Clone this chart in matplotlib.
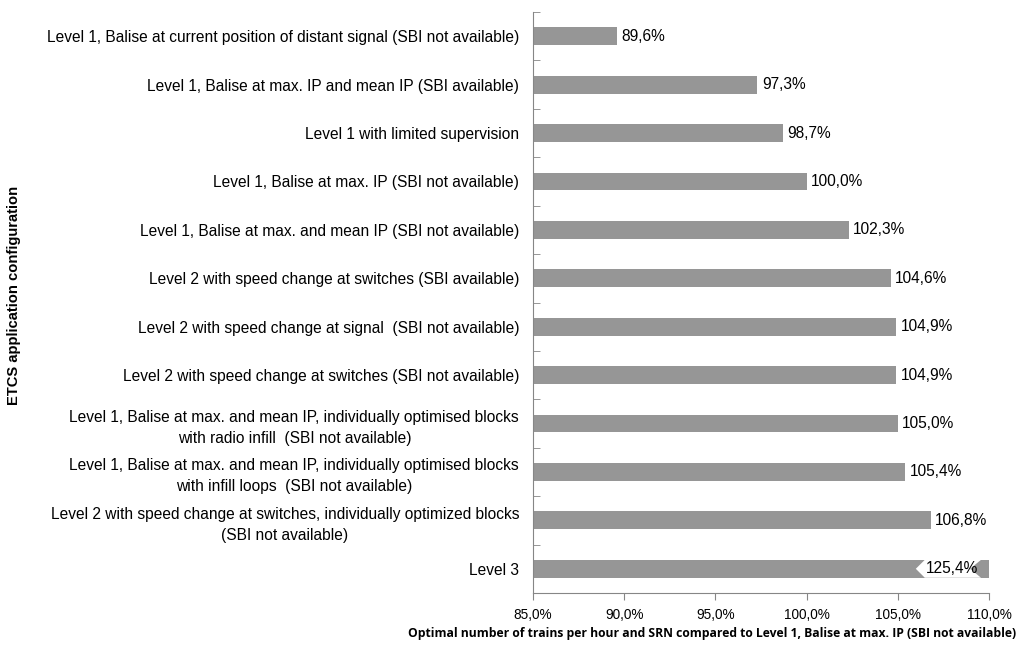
import matplotlib
matplotlib.use("Agg")
import matplotlib.pyplot as plt
from matplotlib.patches import Polygon
import numpy as np

categories = [
    "Level 1, Balise at current position of distant signal (SBI not available)",
    "Level 1, Balise at max. IP and mean IP (SBI available)",
    "Level 1 with limited supervision",
    "Level 1, Balise at max. IP (SBI not available)",
    "Level 1, Balise at max. and mean IP (SBI not available)",
    "Level 2 with speed change at switches (SBI available)",
    "Level 2 with speed change at signal  (SBI not available)",
    "Level 2 with speed change at switches (SBI not available)",
    "Level 1, Balise at max. and mean IP, individually optimised blocks\nwith radio infill  (SBI not available)",
    "Level 1, Balise at max. and mean IP, individually optimised blocks\nwith infill loops  (SBI not available)",
    "Level 2 with speed change at switches, individually optimized blocks\n(SBI not available)",
    "Level 3",
]
values = [89.6, 97.3, 98.7, 100.0, 102.3, 104.6, 104.9, 104.9, 105.0, 105.4, 106.8, 125.4]
xticks = [85, 90, 95, 100, 105, 110]
xticklabels = ["85,0%", "90,0%", "95,0%", "100,0%", "105,0%", "110,0%"]

plt.rcParams['font.family'] = ['Liberation Sans', 'DejaVu Sans']

fig = plt.figure(figsize=(10.21, 6.47), dpi=100)
ax = fig.add_axes([533/1021, 1 - 593/647, (989-533)/1021, (593-12)/647])

y = np.arange(len(categories))
xmin, xmax = 85, 110
ax.barh(y, [v - xmin for v in values], left=xmin, height=0.37, color="#969696")
ax.set_xlim(xmin, xmax)
ax.set_ylim(len(categories) - 0.5, -0.5)

ax.set_yticks(y)
ax.set_yticklabels(categories, fontsize=11.2, ha="right", linespacing=1.5)
ax.tick_params(axis="y", which="major", length=0, pad=10)
ax.set_yticks(np.arange(-0.5, len(categories)), minor=True)
ax.tick_params(axis="y", which="minor", direction="in", length=5, color="#868686")
for lbl in ax.get_yticklabels():
    lbl.set_multialignment("center")

ax.set_xticks(xticks)
ax.set_xticklabels(xticklabels, fontsize=9.8)
ax.tick_params(axis="x", direction="out", length=5, color="#868686", pad=6)

for s in ["top", "right"]:
    ax.spines[s].set_visible(False)
for s in ["left", "bottom"]:
    ax.spines[s].set_color("#868686")

texts = []
for yi, v in zip(y, values):
    fmt = f"{v:.1f}".replace(".", ",") + "%"
    if v <= xmax:
        ax.text(v + 0.25, yi, fmt, va="center", ha="left", fontsize=11.2)
    else:
        t = ax.text(xmax - 0.6, yi, fmt, va="center", ha="right", fontsize=11.2, zorder=5)
        texts.append((t, yi))

fig.canvas.draw()
for t, yi in texts:
    bb = t.get_window_extent()
    y0 = ax.transData.transform((0, yi + 0.185))[1]
    y1 = ax.transData.transform((0, yi - 0.185))[1]
    ym = (y0 + y1) / 2
    xl = bb.x0 - 1
    xr = bb.x1 + 3
    pts = [(xl - 9, ym), (xl, y1), (xr, y1), (xr - 11, ym), (xr, y0), (xl, y0)]
    pts_fig = fig.transFigure.inverted().transform(pts)
    ax.add_patch(Polygon(pts_fig, closed=True, transform=fig.transFigure,
                         facecolor="white", edgecolor="none", zorder=4))

fig.text(14/1021, 1 - 295/647, "ETCS application configuration", rotation=90,
         ha="center", va="center", fontsize=10.6, fontweight="bold")
fig.text(712/1021, 1 - 633/647,
         "Optimal number of trains per hour and SRN compared to Level 1, Balise at max. IP (SBI not available)",
         ha="center", va="center", fontsize=8.7, fontweight="bold", family=["Open Sans", "DejaVu Sans"])

fig.savefig("out.png", dpi=100)
